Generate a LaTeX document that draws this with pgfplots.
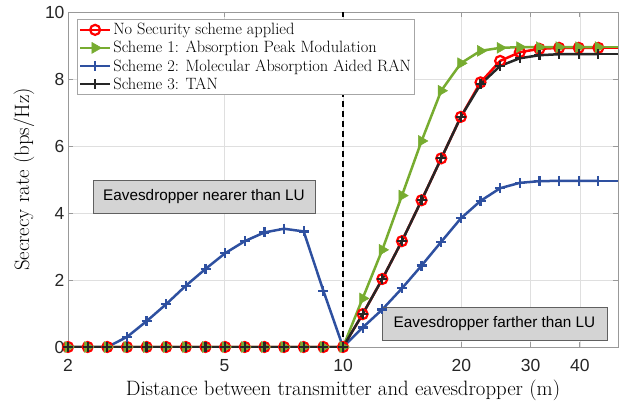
\documentclass[border=0pt]{standalone}
\usepackage{fontspec}
\usepackage{pgfplots}
\pgfplotsset{compat=1.18}
\newfontfamily\arial{Liberation Sans}
\definecolor{cred}{RGB}{255,0,0}
\definecolor{cgreen}{RGB}{119,172,48}
\definecolor{cblue}{RGB}{46,80,160}
\definecolor{cblack}{RGB}{38,38,38}
\definecolor{boxfill}{RGB}{212,212,212}
\begin{document}
\begin{tikzpicture}
\path[use as bounding box] (-68pt,-57pt) rectangle (561pt,347pt);
\begin{axis}[
  scale only axis, width=550pt, height=335pt,
  at={(0,0)}, anchor=south west,
  xmode=log, xmin=2, xmax=50, ymin=0, ymax=10,
  xtick={2,5,10,20,30,40}, xticklabels={2,5,10,20,30,40},
  log ticks with fixed point,
  ytick={0,2,4,6,8,10},
  /pgf/number format/assume math mode=true,
  tick label style={font=\arial\fontsize{17.5}{17.5}\selectfont, text=black!85},
  xticklabel style={yshift=-9pt},
  grid=both, xminorgrids=true, yminorgrids=false,
  major grid style={gray!25, line width=0.6pt},
  minor grid style={gray!17, line width=0.5pt},
  axis line style={gray!80, line width=0.8pt},
  tick style={gray!80, line width=0.8pt},
  major tick length=5pt, minor tick length=3pt,
  tick align=inside,
  xlabel={Distance between transmitter and eavesdropper (m)},
  ylabel={Secrecy rate (bps/Hz)},
  label style={font=\fontsize{20.8}{20.8}\selectfont},
  xlabel style={at={(axis description cs:0.5,-0.13)}, anchor=center},
  ylabel style={at={(axis description cs:-0.080,0.5)}, anchor=center},
  legend style={at={(rel axis cs:0.0164,0.979)}, anchor=north west,
    font=\fontsize{16.4}{16.4}\selectfont, draw=gray!70, line width=0.7pt,
    inner xsep=1.5pt, inner ysep=2pt, row sep=1pt,
    cells={anchor=west}},
  legend cell align=left,
  legend image code/.code={\draw[mark repeat=2,mark phase=2] plot coordinates {(0pt,0pt) (15pt,0pt) (30pt,0pt)};},
]
\addplot[cred, line width=2.5pt, mark=o, mark size=5pt, mark options={line width=2.2pt}] coordinates {
(2,0) (2.244,0) (2.517,0) (2.824,0) (3.168,0) (3.554,0) (3.987,0) (4.472,0) (5.017,0) (5.628,0) (6.314,0) (7.083,0) (7.946,0) (8.914,0) (10,0)
(11.218,0.98) (12.585,2.03) (14.118,3.16) (15.838,4.38) (17.768,5.63) (19.933,6.87) (22.361,7.90) (25.085,8.54) (28.141,8.80) (31.570,8.90) (35.416,8.93) (39.731,8.93) (44.571,8.93)};
\addlegendentry{No Security scheme applied}
\addplot[cgreen, line width=2.5pt, mark=triangle*, mark size=6.3pt, mark options={rotate=-90, line width=0.5pt}] coordinates {
(2,0) (2.244,0) (2.517,0) (2.824,0) (3.168,0) (3.554,0) (3.987,0) (4.472,0) (5.017,0) (5.628,0) (6.314,0) (7.083,0) (7.946,0) (8.914,0) (10,0)
(11.218,1.45) (12.585,2.90) (14.118,4.52) (15.838,6.15) (17.768,7.65) (19.933,8.47) (22.361,8.84) (25.085,8.93) (28.141,8.95) (31.570,8.95) (35.416,8.95) (39.731,8.95) (44.571,8.95)};
\addlegendentry{Scheme 1: Absorption Peak Modulation}
\addplot[cblue, line width=2.5pt, mark=+, mark size=5pt, mark options={line width=2.2pt}] coordinates {
(2,0) (2.244,0) (2.517,0) (2.824,0.30) (3.168,0.77) (3.554,1.28) (3.987,1.83) (4.472,2.33) (5.017,2.80) (5.628,3.16) (6.314,3.42) (7.083,3.53) (7.946,3.45) (8.914,1.68) (10,0)
(11.218,0.58) (12.585,1.12) (14.118,1.75) (15.838,2.43) (17.768,3.14) (19.933,3.84) (22.361,4.36) (25.085,4.74) (28.141,4.90) (31.570,4.95) (35.416,4.96) (39.731,4.96) (44.571,4.96)};
\addlegendentry{Scheme 2: Molecular Absorption Aided RAN}
\addplot[cblack, line width=2.5pt, mark=+, mark size=5pt, mark options={line width=2.2pt}] coordinates {
(2,0) (2.244,0) (2.517,0) (2.824,0) (3.168,0) (3.554,0) (3.987,0) (4.472,0) (5.017,0) (5.628,0) (6.314,0) (7.083,0) (7.946,0) (8.914,0) (10,0)
(11.218,0.98) (12.585,2.03) (14.118,3.16) (15.838,4.38) (17.768,5.63) (19.933,6.87) (22.361,7.84) (25.085,8.39) (28.141,8.62) (31.570,8.71) (35.416,8.74) (39.731,8.74) (44.571,8.74)};
\addlegendentry{Scheme 3: TAN}
\addplot[cred, line width=2.5pt, forget plot] coordinates {(44.571,8.93) (50,8.93)};
\addplot[cgreen, line width=2.5pt, forget plot] coordinates {(44.571,8.95) (50,8.95)};
\addplot[cblue, line width=2.5pt, forget plot] coordinates {(44.571,4.96) (50,4.96)};
\addplot[cblack, line width=2.5pt, forget plot] coordinates {(44.571,8.74) (50,8.74)};
\addplot[black, dashed, line width=1.5pt, dash pattern=on 6pt off 4pt, forget plot] coordinates {(10,0) (10,10)};
\node[draw=gray!75!black, fill=boxfill, line width=0.6pt, minimum width=222pt, minimum height=33pt, inner sep=0pt, font=\arial\fontsize{15.3}{15.3}\selectfont] at (rel axis cs:0.2473,0.449) {Eavesdropper nearer than LU};
\node[draw=gray!75!black, fill=boxfill, line width=0.6pt, minimum width=225pt, minimum height=33pt, inner sep=0pt, font=\arial\fontsize{15.3}{15.3}\selectfont] at (rel axis cs:0.7755,0.0701) {Eavesdropper farther than LU};
\end{axis}
\end{tikzpicture}
\end{document}
